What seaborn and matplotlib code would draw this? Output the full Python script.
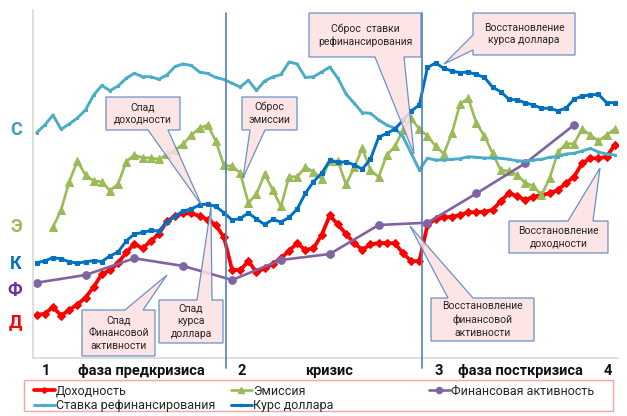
import numpy as np
import pandas as pd
import matplotlib.pyplot as plt
import seaborn as sns
from matplotlib.patches import Polygon, Rectangle
from matplotlib.lines import Line2D

sns.set_style("white")
plt.rcParams['font.family'] = ['Roboto', 'DejaVu Sans']

W, H = 627, 416

# --- data (index of observation, relative level) ---
periods = list(range(72))

dokhodnost = [43, 44.3, 51, 42.5, 48, 53.5, 60.5, 71, 84, 87.7, 95, 105.5, 114, 109.7, 116.8, 124,
              136.8, 141.7, 144.7, 144.7, 142, 138.4, 133, 120.7, 88.3, 87.7, 96.8, 85.8, 89.7, 94,
              99.7, 107.3, 114.7, 108, 109.7, 123, 142.5, 133.5, 124, 114.7, 108.3, 113.5, 115, 115,
              114.7, 104.7, 96.8, 96.8, 133, 139.2, 140.5, 141.3, 143, 145.8, 145.8, 146.3, 148, 157,
              164.7, 162, 158, 161.3, 163, 164.7, 168, 174.7, 181.3, 194.7, 199.7, 199.7, 201.3, 213]

emissiya = [np.nan, np.nan, 130.7, 148, 176.3, 197, 183, 177, 176.3, 167.3, 174, 196.3, 203, 200.2,
            200.2, 198.7, 203.5, 208, 214, 223, 230, 233, 217, 192.5, 192, 185, 155, 164, 184, 168,
            151.5, 181.3, 181.3, 190.7, 186.3, 179, 197.3, 197, 173.5, 190.5, 209.7, 188, 181, 203,
            211.7, 228, 239.5, 229, 222, 212, 204, 225, 254, 259.7, 235, 222, 204.7, 188, 187, 183,
            175.3, 172, 163, 179.7, 205.5, 214.3, 214.3, 229, 223, 217, 223, 229]

stavka = [225.3, 233, 243, 228.7, 234, 240, 248, 263, 272.5, 267.3, 272, 279.7, 284.7, 281.3, 281.3,
          278.7, 283, 291.5, 294, 292.5, 286, 284.5, 280.5, 278.5, 274.7, 271, 277.7, 267.5, 277, 281,
          283.5, 296, 294, 280.5, 281.2, 286, 291, 279.7, 264, 254.7, 245.3, 244.7, 238, 233, 229.7,
          221.3, 204.7, 188, 199.7, 198, 198, 198.7, 199.3, 201.3, 200.7, 200, 200, 199.7, 198.7,
          197.3, 196.7, 198, 198.7, 200.7, 201.3, 204, 204.7, 207, 209.5, 206, 204, 203]

kurs = [95.3, 97, 100.5, 99, 96.3, 94.7, 96.3, 97.3, 96.5, 102, 106, 117, 124, 125.5, 127.5, 127, 136,
        142, 147, 149, 153, 154, 151.5, 145.3, 138, 139.5, 145, 139, 133.5, 138.5, 136, 140.5, 149,
        164.7, 176.3, 184.7, 197.5, 195.5, 196.3, 193, 189, 199, 220.7, 224.7, 229, 237.7, 247, 253,
        290.5, 295, 289.7, 287, 285.3, 286, 283.5, 280.7, 270.7, 266.3, 258.7, 258, 255.3, 253,
        249.7, 249.7, 247.3, 249.7, 258.7, 262, 263, 263.7, 255.3, 255.3]

fin_periods = [0, 6, 12, 18, 24, 30, 36, 42, 48, 54, 60, 66]
fin_aktivnost = [75.3, 83, 99.7, 92, 78, 98, 104, 133, 135.3, 164.5, 194.7, 233]

phase_bounds = [23.3, 47.3]

axis_letters = ["С", "Э", "К", "Ф", "Д"]
axis_letter_levels = [229.7, 133, 96.3, 69.7, 38]
axis_letter_colors = ["#3E9FB2", "#9BBB59", "#0070C0", "#7030A0", "#FF0000"]

phase_labels = ["1", "фаза предкризиса", "2", "кризис", "3", "фаза посткризиса", "4"]
phase_label_pos = [1.2, 12.8, 25.2, 35.9, 49.4, 59.4, 70.2]

# --- figure ---
fig = plt.figure(figsize=(W / 100, H / 100), dpi=100)
ax = fig.add_axes([33 / W, (H - 358) / H, 585 / W, 348 / H])

styles = {
    "Доходность": dict(color="#FF0000", marker="D", markersize=3.6, linewidth=2.7),
    "Эмиссия": dict(color="#9BBB59", marker="^", markersize=5.5, linewidth=1.9),
    "Финансовая активность": dict(color="#8064A2", marker="o", markersize=5.5, linewidth=1.9),
    "Ставка рефинансирования": dict(color="#4BACC6", marker="s", markersize=2, linewidth=2.1),
    "Курс доллара": dict(color="#0070C0", marker="s", markersize=2.4, linewidth=2.1),
}

sns.lineplot(x=periods, y=dokhodnost, ax=ax, mec=styles["Доходность"]["color"], **styles["Доходность"])
df_e = pd.DataFrame({"p": periods, "v": emissiya}).dropna()
sns.lineplot(data=df_e, x="p", y="v", ax=ax, mec=styles["Эмиссия"]["color"], **styles["Эмиссия"])
sns.lineplot(x=fin_periods, y=fin_aktivnost, ax=ax, mec=styles["Финансовая активность"]["color"],
             **styles["Финансовая активность"])
sns.lineplot(x=periods, y=stavka, ax=ax, mec=styles["Ставка рефинансирования"]["color"],
             **styles["Ставка рефинансирования"])
sns.lineplot(x=periods, y=kurs, ax=ax, mec=styles["Курс доллара"]["color"], **styles["Курс доллара"])

ax.set_xlim(-0.45, 71.4)
ax.set_ylim(0, 348)
ax.set_xlabel("")
ax.set_ylabel("")

for b in phase_bounds:
    ax.axvline(b, ymin=-0.03, ymax=0.99, color="#4F81BD", lw=1.2, clip_on=False, zorder=4)

for s in ["top", "right"]:
    ax.spines[s].set_visible(False)
ax.spines["left"].set_color("#D9D9D9")
ax.spines["bottom"].set_color("#D9D9D9")
ax.spines["left"].set_linewidth(1.2)
ax.spines["bottom"].set_linewidth(1.2)

ax.set_yticks(axis_letter_levels)
ax.set_yticklabels(axis_letters, fontsize=13, fontweight="bold")
for lab, c in zip(ax.get_yticklabels(), axis_letter_colors):
    lab.set_color(c)
ax.tick_params(axis="y", length=0, pad=8)

ax.set_xticks(phase_label_pos)
ax.set_xticklabels(phase_labels, fontsize=10.5, fontweight="bold", color="#111111")
ax.tick_params(axis="x", length=0, pad=4)


# --- callouts (pixel layout, top-left origin) ---
def px(x, y):
    return (x / W, 1 - y / H)


def callout(text, box, side, base, tip):
    x0, y0, x1, y1 = box
    if side == "bottom":
        pts = [(x0, y0), (x1, y0), (x1, y1), (base[1], y1), tip, (base[0], y1), (x0, y1)]
    elif side == "top":
        pts = [(x0, y0), (base[0], y0), tip, (base[1], y0), (x1, y0), (x1, y1), (x0, y1)]
    else:
        pts = [(x0, y0), (x1, y0), (x1, y1), (x0, y1), (x0, base[1]), tip, (x0, base[0])]
    poly = Polygon([px(*p) for p in pts], closed=True, transform=fig.transFigure,
                   facecolor="#FDE0E1", alpha=0.85, edgecolor="#4F81BD", lw=0.9, zorder=6,
                   clip_on=False)
    ax.add_patch(poly)
    cx, cy = px((x0 + x1) / 2, (y0 + y1) / 2)
    ax.text(cx, cy, text, transform=fig.transFigure, ha="center", va="center",
            fontsize=7.5, color="#262626", zorder=7, linespacing=1.35)


callout("Спад\nдоходности", (106, 97, 180, 130), "bottom", (148, 168), (202, 206))
callout("Сброс\nэмиссии", (242, 97, 297, 130), "bottom", (250, 265), (243, 178))
callout("Сброс  ставки\nрефинансирования", (309, 13, 421, 57), "bottom", (375, 404), (414, 154))
callout("Восстановление\nкурса доллара", (473, 13, 575, 55), "left", (35, 50), (444, 64))
callout("Спад\nФинансовой\nактивности", (82, 310, 155, 356), "top", (125, 143), (167, 275))
callout("Спад\nкурса\nдоллара", (159, 300, 223, 343), "top", (197, 212), (211, 206))
callout("Восстановление\nфинансовой\nактивности", (431, 298, 534, 341), "top", (448, 473), (410, 226))
callout("Восстановление\nдоходности", (509, 221, 608, 253), "top", (568, 593), (600, 168))

# --- legend ---
def handle(name):
    st = styles[name]
    return Line2D([], [], color=st["color"], marker=st["marker"], markersize=st["markersize"] * 0.8,
                  lw=st["linewidth"], mec=st["color"])


fig.add_artist(Rectangle(px(24, 411), 589 / W, 31 / H, transform=fig.transFigure,
                         facecolor="none", edgecolor="#F2A7A7", lw=1))
columns = [(["Доходность", "Ставка рефинансирования"], 25),
           (["Эмиссия", "Курс доллара"], 222),
           (["Финансовая активность"], 420)]
for names, x in columns:
    fig.legend([handle(n) for n in names], names, loc="upper left",
               bbox_to_anchor=px(x, 376), frameon=False, fontsize=9,
               handlelength=1.7, handletextpad=0.05, labelspacing=0.12,
               borderpad=0.2)

fig.savefig("out.png", dpi=100)
